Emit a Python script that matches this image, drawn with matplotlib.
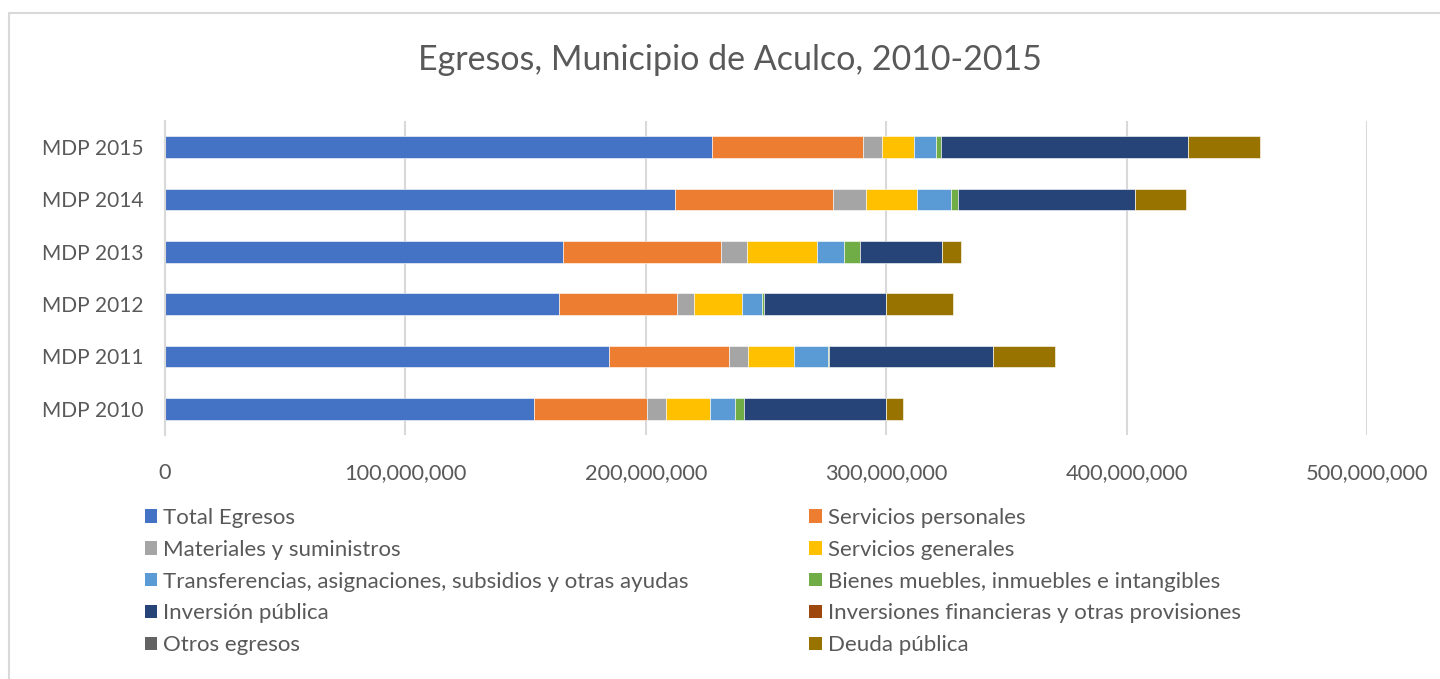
import matplotlib
matplotlib.use("Agg")
import matplotlib.pyplot as plt
from matplotlib.ticker import FuncFormatter, MultipleLocator
from matplotlib.patches import Rectangle, Patch

plt.rcParams['font.family'] = ['Lato', 'DejaVu Sans']

# categorias (de abajo hacia arriba)
anios = ['MDP 2010', 'MDP 2011', 'MDP 2012', 'MDP 2013', 'MDP 2014', 'MDP 2015']

# valores en pesos
total_egresos = [153.6e6, 184.7e6, 163.8e6, 165.6e6, 212.3e6, 227.6e6]
servicios_personales = [46.9e6, 50.1e6, 49.2e6, 65.5e6, 65.7e6, 62.9e6]
materiales = [7.9e6, 7.8e6, 7.0e6, 11.1e6, 13.4e6, 7.9e6]
servicios_generales = [18.4e6, 19.0e6, 20.2e6, 29.1e6, 21.5e6, 13.2e6]
transferencias = [10.5e6, 14.2e6, 8.3e6, 11.1e6, 14.2e6, 9.3e6]
bienes = [3.6e6, 0.5e6, 0.6e6, 6.7e6, 2.6e6, 1.9e6]
inversion_publica = [59.1e6, 68.3e6, 50.8e6, 34.3e6, 73.7e6, 102.7e6]
inversiones_fin = [0, 0, 0, 0, 0, 0]
otros_egresos = [0, 0, 0, 0, 0, 0]
deuda_publica = [6.8e6, 25.5e6, 27.7e6, 7.7e6, 21.5e6, 30.0e6]

series = [
    ('Total Egresos', total_egresos, '#4472C4'),
    ('Servicios personales', servicios_personales, '#ED7D31'),
    ('Materiales y suministros', materiales, '#A5A5A5'),
    ('Servicios generales', servicios_generales, '#FFC000'),
    ('Transferencias, asignaciones, subsidios y otras ayudas', transferencias, '#5B9BD5'),
    ('Bienes muebles, inmuebles e intangibles', bienes, '#70AD47'),
    ('Inversión pública', inversion_publica, '#264478'),
    ('Inversiones financieras y otras provisiones', inversiones_fin, '#9E480E'),
    ('Otros egresos', otros_egresos, '#636363'),
    ('Deuda pública', deuda_publica, '#997300'),
]

txt = '#595959'
fig = plt.figure(figsize=(14.4, 6.79), dpi=100)
ax = fig.add_axes([0.1146, 0.3594, 0.8347, 0.4624])

# marco del grafico
fig.patches.append(Rectangle((9 / 1440, -0.1), 1.2, 1 - 13 / 679 + 0.1,
                             transform=fig.transFigure, fill=False,
                             edgecolor='#D9D9D9', linewidth=1.5))

left = [0] * len(anios)
handles = []
for nombre, vals, col in series:
    ax.barh(anios, vals, left=left, height=0.41, color=col,
            edgecolor='white', linewidth=0.4)
    left = [a + b for a, b in zip(left, vals)]
    handles.append(Patch(facecolor=col, label=nombre))

ax.set_xlim(0, 500e6)
ax.set_ylim(-0.5, 5.5)
ax.xaxis.set_major_locator(MultipleLocator(100e6))
ax.xaxis.set_major_formatter(FuncFormatter(lambda v, p: '{:,.0f}'.format(v)))
ax.grid(axis='x', color='#D9D9D9', linewidth=1.5)
ax.set_axisbelow(True)
for s in ['top', 'right', 'bottom']:
    ax.spines[s].set_visible(False)
ax.spines['left'].set_color('#D9D9D9')
ax.spines['left'].set_linewidth(1.5)
ax.tick_params(axis='both', length=0, colors=txt)
ax.tick_params(axis='x', pad=20, labelsize=15.7)
ax.tick_params(axis='y', pad=15.5, labelsize=15)

fig.text(0.507, 0.911, 'Egresos, Municipio de Aculco, 2010-2015',
         ha='center', va='center', fontsize=24.5, color=txt)

orden = [0, 2, 4, 6, 8, 1, 3, 5, 7, 9]
leg = fig.legend([handles[i] for i in orden], [handles[i].get_label() for i in orden],
                 ncol=2, loc='upper left', bbox_to_anchor=(0.0945, 0.265),
                 frameon=False, fontsize=16, handlelength=0.55, handleheight=0.55,
                 handletextpad=0.27, labelspacing=0.53, columnspacing=5.43,
                 borderaxespad=0)
for t in leg.get_texts():
    t.set_color(txt)

fig.savefig('out.png', dpi=100)
